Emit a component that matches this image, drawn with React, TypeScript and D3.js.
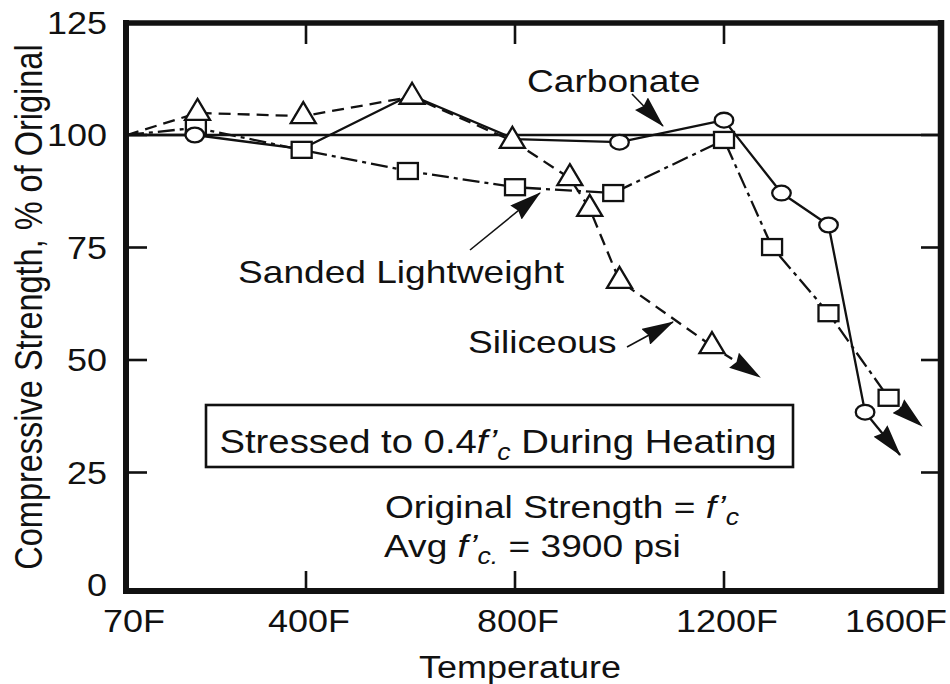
import React from 'react';
import * as d3 from 'd3';

const W = 950;
const H = 684;

// Axis ticks
const tempTickValues = [70, 400, 800, 1200, 1600];
const tempTickLabels = ['70F', '400F', '800F', '1200F', '1600F'];
const strengthTickValues = [0, 25, 50, 75, 100, 125];
const innerTempTicks = [400, 800, 1200];
const innerStrengthTicks = [25, 50, 75, 100];

// Carbonate (circles, solid)
const carbonateTemp = [70, 195, 392, 600, 800, 1000, 1200, 1310, 1400, 1470];
const carbonateStrength = [100, 100, 96.9, 108.9, 99.1, 98.4, 103.3, 87.1, 80, 38.4];
const carbonateMarked = [false, true, false, false, false, true, true, true, true, true];
const carbonateArrow = [1537, 28.9];

// Siliceous (triangles, dashed)
const siliceousTemp = [70, 200, 395, 603, 795, 905, 943, 1000, 1177];
const siliceousStrength = [100, 104.9, 104.2, 108.5, 98.7, 90.4, 83.6, 67.6, 53.1];
const siliceousArrow = [1269, 46.2];

// Sanded Lightweight (squares, dash-dot)
const lightweightTemp = [70, 197, 392, 595, 800, 988, 1200, 1292, 1400, 1515];
const lightweightStrength = [100, 101.6, 96.7, 92, 88.4, 87.1, 98.9, 75.1, 60.4, 41.6];
const lightweightArrow = [1579, 35.3];

const SX = 1.16;
const FONT = '"Liberation Sans", Arial, Helvetica, sans-serif';

function Txt({ x, y, size, anchor = 'start', children }: any) {
  return (
    <text
      transform={`translate(${x},${y}) scale(${SX},1)`}
      fontSize={size}
      textAnchor={anchor}
      fill="#111"
    >
      {children}
    </text>
  );
}

export default function App() {
  const x = d3.scaleLinear().domain([70, 400, 1600]).range([127, 306, 933]);
  const y = d3.scaleLinear().domain([0, 125]).range([585, 22.5]);

  const frame = { left: 126, right: 941, top: 23, bottom: 591 };

  const line = d3
    .line<[number, number]>()
    .x((d) => x(d[0]))
    .y((d) => y(d[1]));

  const carb: [number, number][] = carbonateTemp.map((t, i) => [t, carbonateStrength[i]]);
  const sil: [number, number][] = siliceousTemp.map((t, i) => [t, siliceousStrength[i]]);
  const lw: [number, number][] = lightweightTemp.map((t, i) => [t, lightweightStrength[i]]);

  const carbArrow: [number, number][] = [carb[carb.length - 1], [carbonateArrow[0], carbonateArrow[1]]];
  const silArrow: [number, number][] = [sil[sil.length - 1], [siliceousArrow[0], siliceousArrow[1]]];
  const lwArrow: [number, number][] = [lw[lw.length - 1], [lightweightArrow[0], lightweightArrow[1]]];

  const lineW = 2.3;
  const silDash = '12,7';
  const lwDash = '17,5,4,5';

  const triPath = 'M0,-14 L12.5,7 L-12.5,7 Z';

  return (
    <svg
      width={W}
      height={H}
      viewBox={`0 0 ${W} ${H}`}
      style={{ position: 'absolute', left: 0, top: 0, background: '#fff', fontFamily: FONT }}
    >
      <defs>
        <marker
          id="arrowhead"
          markerUnits="userSpaceOnUse"
          markerWidth={32}
          markerHeight={18}
          viewBox="0 0 32 18"
          refX={31}
          refY={9}
          orient="auto"
        >
          <path d="M0,0 L32,9 L0,18 L3,9 Z" fill="#111" />
        </marker>
      </defs>
      <rect x={0} y={0} width={W} height={H} fill="#fff" />

      {/* reference line at 100% */}
      <line x1={frame.left} x2={frame.right} y1={y(100)} y2={y(100)} stroke="#111" strokeWidth={2.5} />

      {/* inner ticks */}
      {innerStrengthTicks.map((v) => (
        <g key={'ys' + v}>
          <line x1={frame.left} x2={frame.left + 21} y1={y(v)} y2={y(v)} stroke="#111" strokeWidth={2.6} />
          <line x1={frame.right - 20} x2={frame.right} y1={y(v)} y2={y(v)} stroke="#111" strokeWidth={2.6} />
        </g>
      ))}
      {innerTempTicks.map((t) => (
        <g key={'xt' + t}>
          <line x1={x(t)} x2={x(t)} y1={frame.top} y2={frame.top + 21} stroke="#111" strokeWidth={2.6} />
          <line x1={x(t)} x2={x(t)} y1={frame.bottom} y2={frame.bottom - 20} stroke="#111" strokeWidth={2.6} />
        </g>
      ))}

      {/* series lines */}
      <path d={line(carb) || ''} fill="none" stroke="#111" strokeWidth={lineW} strokeLinejoin="round" />
      <path d={line(sil) || ''} fill="none" stroke="#111" strokeWidth={lineW} strokeDasharray={silDash} />
      <path d={line(lw) || ''} fill="none" stroke="#111" strokeWidth={lineW} strokeDasharray={lwDash} />

      {/* series arrows */}
      <path d={line(carbArrow) || ''} fill="none" stroke="#111" strokeWidth={lineW} markerEnd="url(#arrowhead)" />
      <path d={line(silArrow) || ''} fill="none" stroke="#111" strokeWidth={lineW} strokeDasharray="9,6" markerEnd="url(#arrowhead)" />
      <path d={line(lwArrow) || ''} fill="none" stroke="#111" strokeWidth={lineW} strokeDasharray="10,5" markerEnd="url(#arrowhead)" />

      {/* markers: squares, circles, triangles */}
      {lw.slice(1).map((d, i) => (
        <rect
          key={'sq' + i}
          x={x(d[0]) - 10}
          y={y(d[1]) - 8}
          width={20}
          height={16}
          fill="#fff"
          stroke="#111"
          strokeWidth={2.3}
        />
      ))}
      {carb.map((d, i) =>
        carbonateMarked[i] ? (
          <ellipse key={'ci' + i} cx={x(d[0])} cy={y(d[1])} rx={9.3} ry={7.4} fill="#fff" stroke="#111" strokeWidth={2.3} />
        ) : null
      )}
      {sil.slice(1).map((d, i) => (
        <path
          key={'tr' + i}
          d={triPath}
          transform={`translate(${x(d[0])},${y(d[1])})`}
          fill="#fff"
          stroke="#111"
          strokeWidth={2.3}
          strokeLinejoin="miter"
        />
      ))}

      {/* frame */}
      <line x1={frame.left} x2={frame.left} y1={frame.top - 3} y2={frame.bottom + 3} stroke="#111" strokeWidth={6} />
      <line x1={frame.right} x2={frame.right} y1={frame.top - 3} y2={frame.bottom + 3} stroke="#111" strokeWidth={6.5} />
      <line x1={frame.left - 3} x2={frame.right + 3} y1={frame.top} y2={frame.top} stroke="#111" strokeWidth={5.5} />
      <line x1={frame.left - 3} x2={frame.right + 3} y1={frame.bottom} y2={frame.bottom} stroke="#111" strokeWidth={6} />

      {/* y tick labels */}
      {strengthTickValues.map((v) => (
        <Txt key={'yl' + v} x={107} y={y(v) + 11} size={31} anchor="end">
          {String(v)}
        </Txt>
      ))}
      {/* x tick labels */}
      {tempTickValues.map((t, i) => {
        const last = i === tempTickValues.length - 1;
        const first = i === 0;
        const px = first ? x(t) + 7 : last ? 947 : x(t) + 3;
        return (
          <Txt key={'xl' + t} x={px} y={632} size={31} anchor={last ? 'end' : 'middle'}>
            {tempTickLabels[i]}
          </Txt>
        );
      })}

      {/* axis titles */}
      <Txt x={520} y={678} size={31} anchor="middle">
        Temperature
      </Txt>
      <text
        transform={`translate(42,307) rotate(-90) scale(1,1.2)`}
        fontSize={32.5}
        textAnchor="middle"
        fill="#111"
      >
        Compressive Strength, % of Original
      </text>

      {/* annotations */}
      <Txt x={527} y={92} size={32}>
        Carbonate
      </Txt>
      <line x1={632} y1={94} x2={663} y2={126} stroke="#111" strokeWidth={1.6} markerEnd="url(#arrowhead)" />

      <Txt x={238} y={283} size={32}>
        Sanded Lightweight
      </Txt>
      <line x1={470} y1={250} x2={540} y2={193} stroke="#111" strokeWidth={1.6} markerEnd="url(#arrowhead)" />

      <Txt x={468} y={353} size={32}>
        Siliceous
      </Txt>
      <line x1={627} y1={347} x2={673} y2={322} stroke="#111" strokeWidth={1.6} markerEnd="url(#arrowhead)" />

      {/* boxed note */}
      <rect x={206} y={405} width={587} height={62} fill="#fff" stroke="#111" strokeWidth={2.6} />
      <Txt x={498} y={453} size={33} anchor="middle">
        {'Stressed to 0.4'}
        <tspan fontStyle="italic">f’</tspan>
        <tspan fontStyle="italic" fontSize={23} dy={7}>c</tspan>
        <tspan dy={-7}>{' During Heating'}</tspan>
      </Txt>

      <Txt x={385} y={518} size={32}>
        {'Original Strength = '}
        <tspan fontStyle="italic">f’</tspan>
        <tspan fontStyle="italic" fontSize={23} dy={7}>c</tspan>
      </Txt>
      <Txt x={384} y={557} size={32}>
        {'Avg '}
        <tspan fontStyle="italic">f’</tspan>
        <tspan fontStyle="italic" fontSize={23} dy={7}>c.</tspan>
        <tspan dy={-7}>{' = 3900 psi'}</tspan>
      </Txt>
    </svg>
  );
}
